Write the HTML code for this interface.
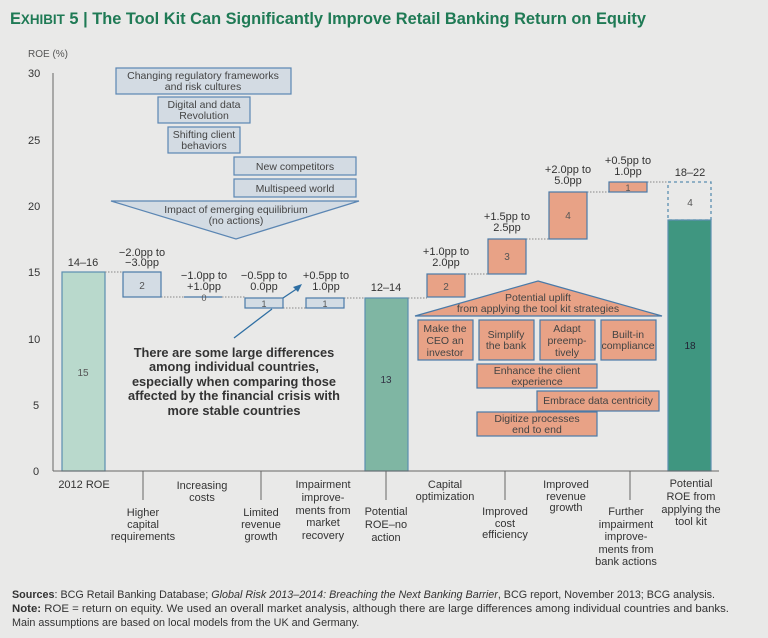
<!DOCTYPE html>
<html><head><meta charset="utf-8"><style>
html,body{margin:0;padding:0;background:#e9e9e8;}
svg{display:block;font-family:"Liberation Sans",sans-serif;}
</style></head><body>
<svg width="768" height="638" viewBox="0 0 768 638" xmlns="http://www.w3.org/2000/svg">
<rect width="768" height="638" fill="#e9e9e8"/>
<text x="10" y="24" font-size="16.5" font-weight="bold" fill="#1f7a55" textLength="636" lengthAdjust="spacingAndGlyphs">E<tspan font-size="13.5">XHIBIT</tspan> 5 | The Tool Kit Can Significantly Improve Retail Banking Return on Equity</text>

<g font-size="11" fill="#333">
<text x="28" y="57" font-size="10" fill="#555">ROE (%)</text>
<g text-anchor="start">
<text x="28" y="77">30</text><text x="28" y="144">25</text><text x="28" y="210">20</text>
<text x="28" y="276">15</text><text x="28" y="343">10</text><text x="33" y="409">5</text><text x="33" y="475">0</text>
</g></g>
<line x1="53" y1="73" x2="53" y2="471" stroke="#666" stroke-width="1"/>

<rect x="62" y="272" width="43" height="199" fill="#b9d9cc" stroke="#5b8fb0" stroke-width="1.2"/>
<rect x="365" y="298" width="43" height="173" fill="#7fb6a3" stroke="#5b8fb0" stroke-width="1.2"/>
<rect x="668" y="220" width="43" height="251" fill="#3f9680" stroke="#5b8fb0" stroke-width="1.2"/>
<rect x="668" y="182" width="43" height="38" fill="none" stroke="#5b8fb0" stroke-width="1.3" stroke-dasharray="3,3"/>
<line x1="53" y1="471" x2="719" y2="471" stroke="#666" stroke-width="1"/>

<g stroke="#888" stroke-width="1" stroke-dasharray="1.5,1.5">
<line x1="105" y1="272" x2="123" y2="272"/><line x1="161" y1="297" x2="184" y2="297"/>
<line x1="222" y1="297" x2="245" y2="297"/><line x1="283" y1="308" x2="306" y2="308"/>
<line x1="344" y1="298" x2="365" y2="298"/><line x1="408" y1="298" x2="427" y2="298"/>
<line x1="465" y1="274" x2="488" y2="274"/><line x1="526" y1="239" x2="549" y2="239"/>
<line x1="587" y1="192" x2="609" y2="192"/><line x1="647" y1="182" x2="668" y2="182"/>
</g>

<g fill="#d3dce4" stroke="#4a7aa8" stroke-width="1.2">
<rect x="123" y="272" width="38" height="25"/>
<rect x="245" y="298" width="38" height="10"/>
<rect x="306" y="298" width="38" height="10"/>
</g>
<line x1="184" y1="297" x2="222" y2="297" stroke="#4a7aa8" stroke-width="1.2"/>
<g font-size="10" fill="#555" text-anchor="middle">
<text x="142" y="289">2</text><text x="204" y="301" font-size="9">0</text>
<text x="264" y="307" font-size="9">1</text><text x="325" y="307" font-size="9">1</text>
<text x="83" y="376">15</text><text x="386" y="383" fill="#334">13</text><text x="690" y="349" fill="#223">18</text><text x="690" y="206">4</text>
</g>
<g font-size="11" fill="#333" text-anchor="middle">
<text x="83" y="266">14–16</text>
<text x="142" y="256">−2.0pp to</text><text x="142" y="266">−3.0pp</text>
<text x="204" y="279">−1.0pp to</text><text x="204" y="290">+1.0pp</text>
<text x="264" y="279">−0.5pp to</text><text x="264" y="290">0.0pp</text>
<text x="326" y="279">+0.5pp to</text><text x="326" y="290">1.0pp</text>
<text x="386" y="291">12–14</text>
<text x="446" y="255">+1.0pp to</text><text x="446" y="266">2.0pp</text>
<text x="507" y="220">+1.5pp to</text><text x="507" y="231">2.5pp</text>
<text x="568" y="173">+2.0pp to</text><text x="568" y="184">5.0pp</text>
<text x="628" y="164">+0.5pp to</text><text x="628" y="175">1.0pp</text>
<text x="690" y="176">18–22</text>
</g>

<line x1="272" y1="309" x2="234" y2="338" stroke="#2f6fa3" stroke-width="1.3"/>
<line x1="283" y1="298" x2="298" y2="288" stroke="#2f6fa3" stroke-width="1.3"/>
<polygon points="302,284 293,287 298,292" fill="#2f6fa3"/>

<g fill="#d3dbe3" stroke="#5b86b3" stroke-width="1.2">
<rect x="116" y="68" width="175" height="26"/>
<rect x="158" y="97" width="92" height="26"/>
<rect x="168" y="127" width="72" height="26"/>
<rect x="234" y="157" width="122" height="18"/>
<rect x="234" y="179" width="122" height="18"/>
<polygon points="111,201 359,201 236,239"/>
</g>
<g font-size="10.5" fill="#444" text-anchor="middle">
<text x="203" y="79">Changing regulatory frameworks</text><text x="203" y="90">and risk cultures</text>
<text x="204" y="108">Digital and data</text><text x="204" y="119">Revolution</text>
<text x="204" y="138">Shifting client</text><text x="204" y="149">behaviors</text>
<text x="295" y="170">New competitors</text>
<text x="295" y="192">Multispeed world</text>
<text x="236" y="213">Impact of emerging equilibrium</text><text x="236" y="224">(no actions)</text>
</g>

<g fill="#e8a286" stroke="#4a7aa8" stroke-width="1.2">
<rect x="427" y="274" width="38" height="23"/>
<rect x="488" y="239" width="38" height="35"/>
<rect x="549" y="192" width="38" height="47"/>
<rect x="609" y="182" width="38" height="10"/>
<polygon points="538,281 662,316 415,316"/>
<rect x="418" y="320" width="55" height="40"/>
<rect x="479" y="320" width="55" height="40"/>
<rect x="540" y="320" width="55" height="40"/>
<rect x="601" y="320" width="55" height="40"/>
<rect x="477" y="364" width="120" height="24"/>
<rect x="537" y="391" width="122" height="20"/>
<rect x="477" y="412" width="120" height="24"/>
</g>
<g font-size="10" fill="#555" text-anchor="middle">
<text x="446" y="290">2</text><text x="507" y="260">3</text><text x="568" y="219">4</text><text x="628" y="191" font-size="9">1</text>
</g>
<g font-size="10.5" fill="#444" text-anchor="middle">
<text x="538" y="301">Potential uplift</text><text x="538" y="312">from applying the tool kit strategies</text>
<text x="445" y="332">Make the</text><text x="445" y="344">CEO an</text><text x="445" y="356">investor</text>
<text x="506" y="338">Simplify</text><text x="506" y="349">the bank</text>
<text x="567" y="332">Adapt</text><text x="567" y="344">preemp-</text><text x="567" y="356">tively</text>
<text x="628" y="338">Built-in</text><text x="628" y="349">compliance</text>
<text x="537" y="374">Enhance the client</text><text x="537" y="385">experience</text>
<text x="598" y="404">Embrace data centricity</text>
<text x="537" y="422">Digitize processes</text><text x="537" y="433">end to end</text>
</g>

<g font-size="12.8" font-weight="bold" fill="#333" text-anchor="middle">
<text x="234" y="357">There are some large differences</text>
<text x="234" y="371">among individual countries,</text>
<text x="234" y="386">especially when comparing those</text>
<text x="234" y="400">affected by the financial crisis with</text>
<text x="234" y="415">more stable countries</text>
</g>

<g stroke="#666" stroke-width="1">
<line x1="143" y1="471" x2="143" y2="500"/><line x1="261" y1="471" x2="261" y2="500"/>
<line x1="386" y1="471" x2="386" y2="500"/><line x1="505" y1="471" x2="505" y2="500"/>
<line x1="630" y1="471" x2="630" y2="500"/>
</g>
<g font-size="11" fill="#333" text-anchor="middle">
<text x="84" y="488">2012 ROE</text>
<text x="143" y="516">Higher</text><text x="143" y="528">capital</text><text x="143" y="540">requirements</text>
<text x="202" y="489">Increasing</text><text x="202" y="501">costs</text>
<text x="261" y="516">Limited</text><text x="261" y="528">revenue</text><text x="261" y="540">growth</text>
<text x="323" y="488">Impairment</text><text x="323" y="501">improve-</text><text x="323" y="514">ments from</text><text x="323" y="526">market</text><text x="323" y="539">recovery</text>
<text x="386" y="515">Potential</text><text x="386" y="528">ROE–no</text><text x="386" y="541">action</text>
<text x="445" y="488">Capital</text><text x="445" y="500">optimization</text>
<text x="505" y="515">Improved</text><text x="505" y="527">cost</text><text x="505" y="538">efficiency</text>
<text x="566" y="488">Improved</text><text x="566" y="500">revenue</text><text x="566" y="511">growth</text>
<text x="626" y="515">Further</text><text x="626" y="528">impairment</text><text x="626" y="540">improve-</text><text x="626" y="553">ments from</text><text x="626" y="565">bank actions</text>
<text x="691" y="487">Potential</text><text x="691" y="500">ROE from</text><text x="691" y="513">applying the</text><text x="691" y="525">tool kit</text>
</g>

<g font-size="10.8" fill="#333">
<text x="12" y="598" textLength="703" lengthAdjust="spacingAndGlyphs"><tspan font-weight="bold">Sources</tspan>: BCG Retail Banking Database; <tspan font-style="italic">Global Risk 2013–2014: Breaching the Next Banking Barrier</tspan>, BCG report, November 2013; BCG analysis.</text>
<text x="12" y="612" textLength="717" lengthAdjust="spacingAndGlyphs"><tspan font-weight="bold">Note:</tspan> ROE = return on equity. We used an overall market analysis, although there are large differences among individual countries and banks.</text>
<text x="12" y="626">Main assumptions are based on local models from the UK and Germany.</text>
</g>
</svg>
</body></html>
